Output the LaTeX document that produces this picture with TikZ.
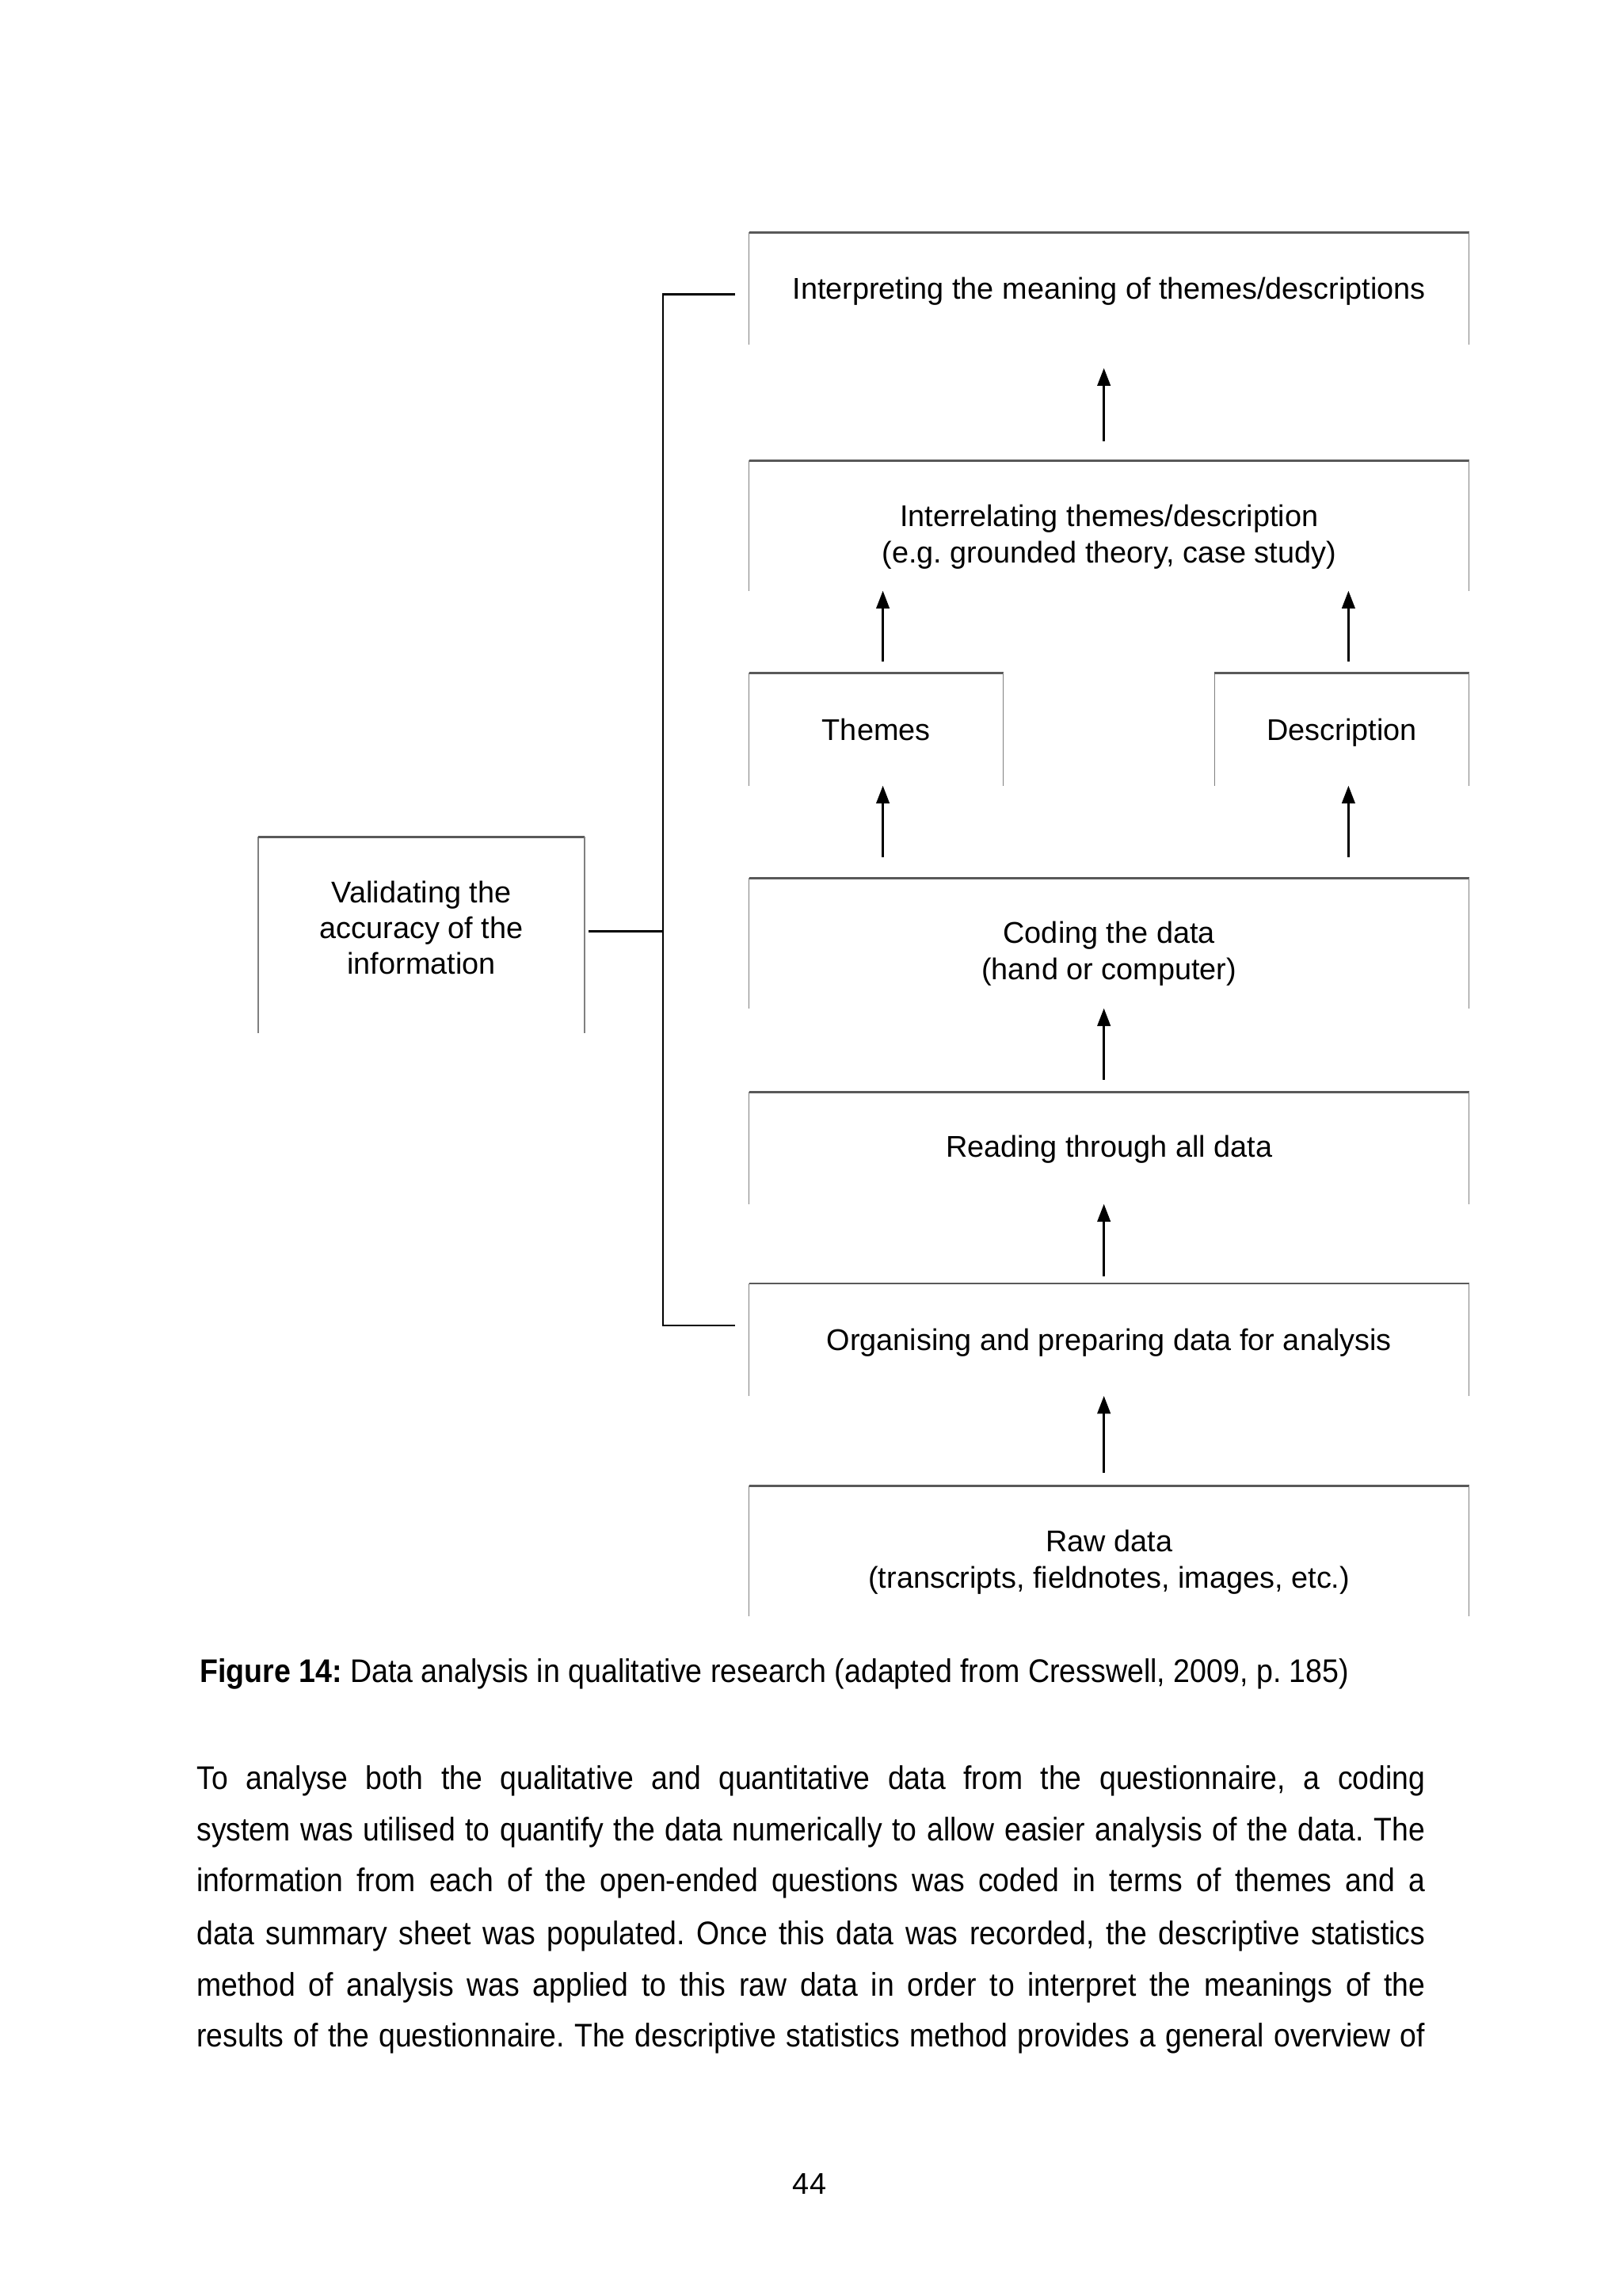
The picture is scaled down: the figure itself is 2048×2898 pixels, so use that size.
\documentclass[tikz,border=0pt]{standalone}
\usepackage{fontspec}
\setmainfont{Liberation Sans}
\newfontfamily\condfont[FakeStretch=0.905]{Liberation Sans}
\newfontfamily\capfont[FakeStretch=0.91]{Liberation Sans}
\usetikzlibrary{arrows.meta}
\def\u{0.29066pt}
\newcommand\obox[1]{%
  \draw[boxside] (#1.south west) -- (#1.north west);
  \draw[boxtop] (#1.north west) -- (#1.north east);
  \draw[boxside] (#1.north east) -- (#1.south east);}
\begin{document}
\frenchspacing
\begin{tikzpicture}[x=0.29066pt,y=-0.29066pt,
  box/.style={inner sep=0pt},
  lbl/.style={inner sep=0pt, align=center, font=\fontsize{11}{13.4}\selectfont},
  one/.style={lbl, text height=8pt, text depth=2.3pt},
  boxtop/.style={line width=0.75pt, black!65},
  boxside/.style={line width=0.45pt, black!50},
  arr/.style={-{Triangle[width=4.8pt,length=6.5pt]}, line width=0.75pt},
  brk/.style={line width=0.85pt},
  txt/.style={inner sep=0pt, anchor=west, font=\condfont\fontsize{12}{14}\selectfont}]
\useasboundingbox[fill=white] (0,0) rectangle (2048,2898);

% boxes (outlines)
\node[box, minimum width=907.6*\u, minimum height=140*\u] (interp) at (1400.2,364) {};
\node[box, minimum width=907.6*\u, minimum height=163*\u] (interrel) at (1400.2,663.5) {};
\node[box, minimum width=319.6*\u, minimum height=141*\u] (themes) at (1106.2,920.5) {};
\node[box, minimum width=320*\u, minimum height=141*\u] (desc) at (1694,920.5) {};
\node[box, minimum width=907.6*\u, minimum height=163*\u] (coding) at (1400.2,1190.5) {};
\node[box, minimum width=907.6*\u, minimum height=140*\u] (reading) at (1400.2,1449) {};
\node[box, minimum width=907.6*\u, minimum height=140.5*\u] (org) at (1400.2,1691) {};
\node[box, minimum width=907.6*\u, minimum height=163*\u] (raw) at (1400.2,1957.5) {};
\node[box, minimum width=410.5*\u, minimum height=246*\u] (valid) at (532,1180) {};
\foreach \n in {interp,interrel,themes,desc,coding,reading,org,raw,valid}{\obox{\n}}

% box texts
\node[one] (interpT) at (1400.2,367.8) {Interpreting the meaning of themes/descriptions};
\node[lbl] (interrelT) at (1400.2,677.5) {Interrelating themes/description\\(e.g. grounded theory, case study)};
\node[one] (themesT) at (1106.2,924.2) {Themes};
\node[one] (descT) at (1694,924.2) {Description};
\node[lbl] (codingT) at (1400.2,1203.3) {Coding the data\\(hand or computer)};
\node[one] (readingT) at (1400.2,1451) {Reading through all data};
\node[one] (orgT) at (1400.2,1695) {Organising and preparing data for analysis};
\node[lbl] (rawT) at (1400.2,1971.3) {Raw data\\(transcripts, fieldnotes, images, etc.)};
\node[lbl, font=\fontsize{11}{13}\selectfont] (validT) at (532,1171) {Validating the\\accuracy of the\\information};

% arrows
\draw[arr, shorten <=7pt, shorten >=8.7pt] ([xshift=-1.9pt]interrel.north) -- ([xshift=-1.9pt]interp.south);
\draw[arr, shorten <=4.2pt] ([xshift=2.44pt]themes.north) -- ([xshift=2.44pt]themes.north |- interrel.south);
\draw[arr, shorten <=4.2pt] ([xshift=2.44pt]desc.north) -- ([xshift=2.44pt]desc.north |- interrel.south);
\draw[arr, shorten <=7.6pt] ([xshift=2.44pt]coding.north -| themes.south) -- ([xshift=2.44pt]themes.south);
\draw[arr, shorten <=7.6pt] ([xshift=2.44pt]coding.north -| desc.south) -- ([xshift=2.44pt]desc.south);
\draw[arr, shorten <=4.4pt] ([xshift=-1.9pt]reading.north) -- ([xshift=-1.9pt]coding.south);
\draw[arr, shorten <=2.6pt] ([xshift=-1.9pt]org.north) -- ([xshift=-1.9pt]reading.south);
\draw[arr, shorten <=4.8pt] ([xshift=-1.9pt]raw.north) -- ([xshift=-1.9pt]org.south);

% bracket
\coordinate (btop) at (837,371.5);
\coordinate (bbot) at (837,1673);
\coordinate (bmid) at (837,1175.6);
\coordinate (ttop) at (928,371.5);
\coordinate (tbot) at (928,1673);
\coordinate (vend) at (743,1175.6);
\draw[brk] (ttop) -- (btop) -- (bbot) -- (tbot);
\draw[brk] (vend) -- (bmid);

% caption
\node[txt, font=\capfont\fontsize{12}{14}\selectfont] (caption) at (251.4,2112.7) {\textbf{Figure 14:} Data analysis in qualitative research (adapted from Cresswell, 2009, p. 185)};

% body text
\node[txt] (b1) at (247.7,2247.7) {\makebox[450.8pt][s]{To analyse both the qualitative and quantitative data from the questionnaire, a coding}};
\node[txt] (b2) at (247.7,2312.3) {\makebox[450.8pt][s]{system was utilised to quantify the data numerically to allow easier analysis of the data. The}};
\node[txt] (b3) at (247.7,2377.1) {\makebox[450.8pt][s]{information from each of the open-ended questions was coded in terms of themes and a}};
\node[txt] (b4) at (247.7,2443.7) {\makebox[450.8pt][s]{data summary sheet was populated. Once this data was recorded, the descriptive statistics}};
\node[txt] (b5) at (247.7,2508.3) {\makebox[450.8pt][s]{method of analysis was applied to this raw data in order to interpret the meanings of the}};
\node[txt] (b6) at (247.7,2573) {\makebox[450.8pt][s]{results of the questionnaire. The descriptive statistics method provides a general overview of}};

% page number
\node[inner sep=0pt, font=\fontsize{11}{13}\selectfont] (pagenum) at (1022,2756) {44};
\end{tikzpicture}
\end{document}
